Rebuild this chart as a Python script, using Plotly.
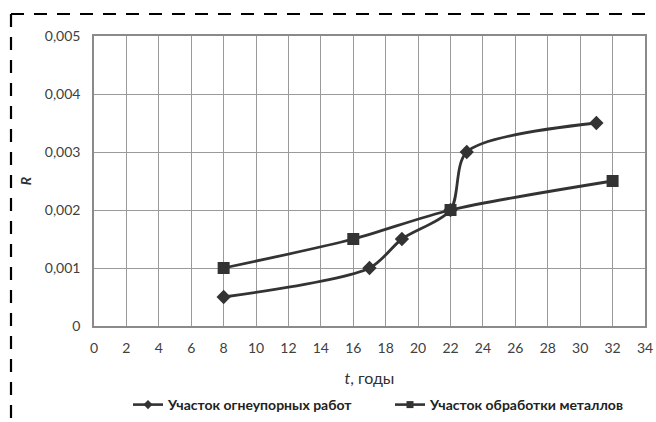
import plotly.graph_objects as go

t_refr = [8, 17, 19, 22, 23, 31]
r_refr = [0.0005, 0.001, 0.0015, 0.002, 0.003, 0.0035]
t_metal = [8, 16, 22, 32]
r_metal = [0.001, 0.0015, 0.002, 0.0025]
name_refr = "Участок огнеупорных работ"
name_metal = "Участок обработки металлов"
x_ticks = list(range(0, 35, 2))
y_ticks = [0, 0.001, 0.002, 0.003, 0.004, 0.005]
y_ticktext = ["0", "0,001", "0,002", "0,003", "0,004", "0,005"]

W, H = 656, 422
L, R, T, B = 94, 11, 36, 96
pw, ph = W - L - R, H - T - B

line_col = "#333333"
fig = go.Figure()
fig.add_trace(go.Scatter(x=t_refr, y=r_refr, name=name_refr, mode="lines+markers", showlegend=False,
                         line=dict(color=line_col, width=2.8, shape="spline", smoothing=0.8),
                         marker=dict(symbol="diamond", size=11, color=line_col)))
fig.add_trace(go.Scatter(x=t_metal, y=r_metal, name=name_metal, mode="lines+markers", showlegend=False,
                         line=dict(color=line_col, width=2.8, shape="spline", smoothing=0.8),
                         marker=dict(symbol="square", size=12, color=line_col)))
# legend-only entries with small markers
fig.add_trace(go.Scatter(x=[None], y=[None], name=name_refr, mode="lines+markers",
                         line=dict(color=line_col, width=2.6),
                         marker=dict(symbol="diamond", size=7, color=line_col)))
fig.add_trace(go.Scatter(x=[None], y=[None], name=name_metal, mode="lines+markers",
                         line=dict(color=line_col, width=2.6),
                         marker=dict(symbol="square", size=7, color=line_col)))

def px_x(p):
    return (p - L) / pw

def px_y(p):
    return 1 - (p - T) / ph

dash = dict(color="black", width=2.2, dash="13px,10px")
fig.add_shape(type="line", xref="paper", yref="paper", x0=px_x(11), x1=px_x(650),
              y0=px_y(14), y1=px_y(14), line=dash)
fig.add_shape(type="line", xref="paper", yref="paper", x0=px_x(11), x1=px_x(11),
              y0=px_y(14), y1=px_y(425), line=dash)

fig.update_layout(
    width=W, height=H,
    margin=dict(l=L, r=R, t=T, b=B, autoexpand=False),
    paper_bgcolor="white", plot_bgcolor="white",
    font=dict(family="Lato, Open Sans, sans-serif", color="#404040", size=13),
    showlegend=True,
    legend=dict(orientation="h", x=px_x(128), y=px_y(405), xanchor="left", yanchor="middle",
                font=dict(size=14, color="#222222", weight="bold"), itemwidth=30, tracegroupgap=0,
                entrywidth=217, entrywidthmode="pixels"),
    xaxis=dict(range=[0, 34], tickvals=x_ticks, showgrid=True, gridcolor="#9a9a9a", gridwidth=1.2,
               zeroline=False, showline=True, linecolor="#8a8a8a", linewidth=1.5, mirror=True,
               ticks="", automargin=False, ticklabelstandoff=8,
               title=dict(text="<i>t</i>, годы", font=dict(size=16, color="#303030"), standoff=18),
               tickfont=dict(size=14)),
    yaxis=dict(range=[0, 0.005], tickvals=y_ticks, ticktext=y_ticktext, showgrid=True,
               gridcolor="#9a9a9a", gridwidth=1.2, zeroline=False, showline=True,
               linecolor="#8a8a8a", linewidth=1.5, mirror=True, ticks="", automargin=False,
               ticklabelstandoff=9,
               title=dict(text="<i><b>R</b></i>", font=dict(size=14, color="#303030"), standoff=10),
               tickfont=dict(size=14)),
)
fig.write_html("out.html")
